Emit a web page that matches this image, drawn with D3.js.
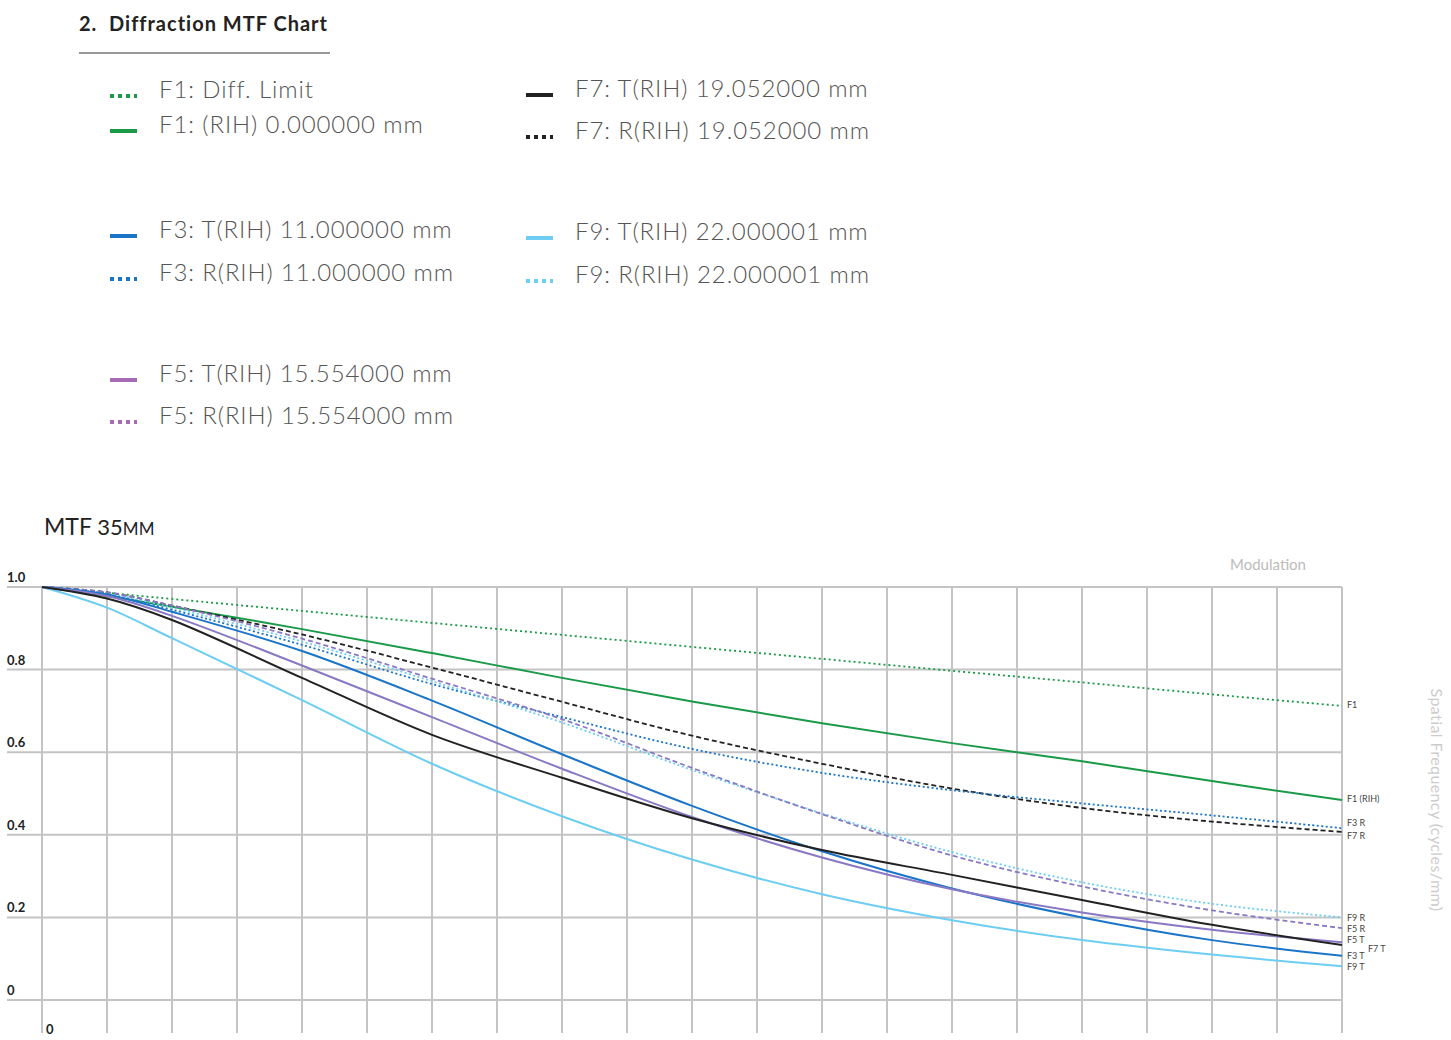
<!DOCTYPE html>
<html><head><meta charset="utf-8">
<script src="https://cdn.jsdelivr.net/npm/d3@7"></script>
<style>body{margin:0;background:#fff}svg{display:block;font-family:Lato,"Open Sans",sans-serif}</style>
</head><body><svg id="c" width="1451" height="1040"></svg>
<script>
const xs = [0,1,2,4,6,8,10,12,14,16,18,20];
const f1Diff = [1.0,0.986,0.971,0.942,0.913,0.884,0.855,0.826,0.797,0.769,0.740,0.712];
const f1RIH  = [1.0,0.978,0.952,0.898,0.840,0.780,0.723,0.670,0.622,0.578,0.530,0.484];
const f3T    = [1.0,0.982,0.940,0.845,0.725,0.595,0.470,0.360,0.270,0.200,0.145,0.107];
const f3R    = [1.0,0.983,0.945,0.860,0.765,0.685,0.608,0.550,0.508,0.476,0.447,0.416];
const f5T    = [1.0,0.978,0.930,0.810,0.685,0.560,0.443,0.345,0.268,0.212,0.170,0.140];
const f5R    = [1.0,0.987,0.955,0.875,0.778,0.680,0.562,0.450,0.350,0.275,0.217,0.174];
const f7T    = [1.0,0.972,0.920,0.780,0.642,0.538,0.440,0.363,0.303,0.242,0.182,0.133];
const f7R    = [1.0,0.987,0.955,0.885,0.805,0.722,0.640,0.572,0.512,0.465,0.432,0.407];
const f9T    = [1.0,0.950,0.876,0.726,0.572,0.445,0.340,0.256,0.193,0.145,0.110,0.082];
const f9R    = [1.0,0.985,0.950,0.868,0.772,0.672,0.557,0.452,0.358,0.285,0.233,0.200];
const yTicks = [0,0.2,0.4,0.6,0.8,1.0];
const yTickLabels = ["0","0.2","0.4","0.6","0.8","1.0"];

const series = [
 {v:f1Diff,c:"#1a9a48",d:"2,3",lab:"F1",dy:0},
 {v:f1RIH,c:"#1a9a48",d:null,lab:"F1 (RIH)",dy:0},
 {v:f7R,c:"#222",d:"5,3",lab:"F7 R",dy:5},
 {v:f3R,c:"#1a74c8",d:"2,2.5",lab:"F3 R",dy:-4},
 {v:f9R,c:"#6dcdf2",d:"2,2.5",lab:"F9 R",dy:1},
 {v:f5R,c:"#8a78c4",d:"5,3",lab:"F5 R",dy:2},
 {v:f9T,c:"#6dcdf2",d:null,lab:"F9 T",dy:2},
 {v:f3T,c:"#1a74c8",d:null,lab:"F3 T",dy:1},
 {v:f5T,c:"#8a78c4",d:null,lab:"F5 T",dy:-1},
 {v:f7T,c:"#222",d:null,lab:"",dy:0}
];

const svg = d3.select("#c");
const x = d3.scaleLinear().domain([0,20]).range([42,1342]);
const y = d3.scaleLinear().domain([0,1]).range([1000,587]);

svg.append("text").attr("x",79).attr("y",31).attr("font-size",20).attr("font-weight",700)
  .attr("fill","#222").attr("letter-spacing",1).attr("xml:space","preserve").text("2.  Diffraction MTF Chart");
svg.append("line").attr("x1",79).attr("x2",330).attr("y1",53).attr("y2",53).attr("stroke","#333").attr("stroke-width",1.2);

const legend = [
 {x:110,y:96,c:"#1a9a48",d:"4,4",t:"F1: Diff. Limit"},
 {x:110,y:131,c:"#1a9a48",d:null,t:"F1: (RIH) 0.000000 mm"},
 {x:110,y:236,c:"#1a74c8",d:null,t:"F3: T(RIH) 11.000000 mm"},
 {x:110,y:279,c:"#1a74c8",d:"4,4",t:"F3: R(RIH) 11.000000 mm"},
 {x:110,y:380,c:"#a66bb4",d:null,t:"F5: T(RIH) 15.554000 mm"},
 {x:110,y:422,c:"#a66bb4",d:"4,4",t:"F5: R(RIH) 15.554000 mm"},
 {x:526,y:95,c:"#222",d:null,t:"F7: T(RIH) 19.052000 mm"},
 {x:526,y:137,c:"#222",d:"4,4",t:"F7: R(RIH) 19.052000 mm"},
 {x:526,y:238,c:"#6dcdf2",d:null,t:"F9: T(RIH) 22.000001 mm"},
 {x:526,y:281,c:"#6dcdf2",d:"4,4",t:"F9: R(RIH) 22.000001 mm"}
];
legend.forEach(l=>{
  svg.append("line").attr("x1",l.x).attr("x2",l.x+27).attr("y1",l.y).attr("y2",l.y)
    .attr("stroke",l.c).attr("stroke-width",4).attr("stroke-dasharray",l.d);
  svg.append("text").attr("x",l.x+49).attr("y",l.y-4).attr("font-size",24).attr("font-weight",300)
    .attr("letter-spacing",0.9).attr("fill","#555").attr("dominant-baseline","middle").text(l.t);
});

const tt = svg.append("text").attr("x",44).attr("y",535).attr("font-size",23).attr("fill","#222");
tt.append("tspan").text("MTF ");
tt.append("tspan").text("35").attr("font-size",22);
tt.append("tspan").text("MM").attr("font-size",17);

svg.append("text").attr("x",1306).attr("y",570).attr("text-anchor","end").attr("font-size",15)
  .attr("fill","#bbb").text("Modulation");
svg.append("text").attr("transform","translate(1431,800) rotate(90)").attr("text-anchor","middle")
  .attr("font-size",16).attr("letter-spacing",0.4).attr("fill","#ccc").text("Spatial Frequency (cycles/mm)");

const g = svg.append("g");
g.selectAll(".v").data(d3.range(0,21)).join("line")
  .attr("x1",d=>x(d)).attr("x2",d=>x(d)).attr("y1",y(1)).attr("y2",1033)
  .attr("stroke","#c4c4c6").attr("stroke-width",2);
g.selectAll(".h").data(yTicks).join("line")
  .attr("x1",7).attr("x2",1342).attr("y1",d=>y(d)).attr("y2",d=>y(d))
  .attr("stroke","#c4c4c6").attr("stroke-width",2);
g.selectAll(".yl").data(yTicks).join("text")
  .attr("x",7).attr("y",d=>y(d)-5).attr("font-size",13).attr("font-weight",700).attr("fill","#222")
  .text((d,i)=>yTickLabels[i]);
svg.append("text").attr("x",46).attr("y",1034).attr("font-size",13).attr("font-weight",700).attr("fill","#222").text("0");

const line = d3.line().x((d,i)=>x(xs[i])).y(d=>y(d)).curve(d3.curveCatmullRom.alpha(0.5));
series.forEach(s=>{
  svg.append("path").attr("d",line(s.v)).attr("fill","none").attr("stroke",s.c)
    .attr("stroke-width",s.d?1.8:2).attr("stroke-dasharray",s.d);
  if(s.lab) svg.append("text").attr("x",1347).attr("y",y(s.v[s.v.length-1])+s.dy)
    .attr("dominant-baseline","middle").attr("font-size",9).attr("fill","#444").text(s.lab);
});
svg.append("text").attr("x",1368).attr("y",950).attr("dominant-baseline","middle")
  .attr("font-size",9).attr("fill","#444").text("F7 T");
</script></body></html>
